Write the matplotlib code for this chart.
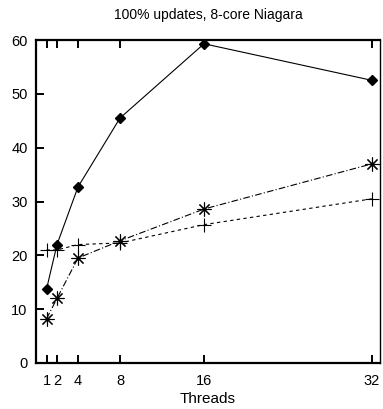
import matplotlib
matplotlib.use("Agg")
import matplotlib.pyplot as plt

threads = [1, 2, 4, 8, 16, 32]
series_a = [13.7, 22.0, 32.7, 45.5, 59.3, 52.5]
series_b = [8.2, 12.0, 19.5, 22.7, 28.6, 37.0]
series_c = [21.0, 21.0, 22.0, 22.3, 25.7, 30.5]
yticks = [0, 10, 20, 30, 40, 50, 60]

plt.rcParams['font.family'] = ['Liberation Sans', 'DejaVu Sans']
fig = plt.figure(figsize=(3.83, 4.09), dpi=100)
ax = fig.add_axes([36/383, 1 - 363/409, (380-36)/383, (363-40)/409])

ax.plot(threads, series_a, color='black', lw=0.8, ls='-', marker='D', ms=5.5)
ax.plot(threads, series_b, color='black', lw=0.8, ls=(0, (6, 2, 1, 2)), marker=(8, 2, 0), ms=10, mew=0.8)
ax.plot(threads, series_c, color='black', lw=0.8, ls=(0, (3, 3)), marker='+', ms=10, mew=0.8)

ax.set_xlim(0, 32.76)
ax.set_ylim(0, 60)
ax.set_xticks(threads)
ax.set_xticklabels([str(t) for t in threads])
ax.set_yticks(yticks)
ax.tick_params(direction='in', length=6, width=1.4, top=True, right=False, labelsize=10.5)
ax.tick_params(axis='x', pad=8)
ax.tick_params(axis='y', pad=6)
for name, s in ax.spines.items():
    s.set_linewidth(1.0 if name == 'right' else 1.6)
ax.set_xlabel('Threads', fontsize=11, labelpad=3)
ax.set_title('100% updates, 8-core Niagara', fontsize=10, pad=15)

fig.savefig('out.png', dpi=100)
